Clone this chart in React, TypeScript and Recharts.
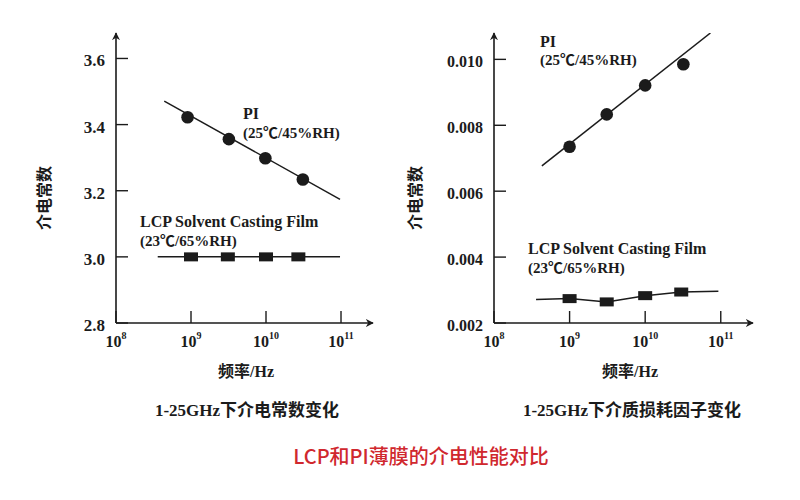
import React from 'react';
import { ComposedChart, Line, Scatter, XAxis, YAxis } from 'recharts';

// values (frequency in Hz)
const piFreqDk = [9e8, 3.2e9, 9.8e9, 3.1e10];
const piDk = [3.422, 3.356, 3.298, 3.234];
const piFitFreqDk = [4.4e8, 9.7e10];
const piFitDk = [3.471, 3.174];
const lcpFreqDk = [1e9, 3.1e9, 1e10, 2.7e10];
const lcpDk = [3.0, 3.0, 3.0, 3.0];
const lcpFitFreqDk = [3.6e8, 9.7e10];
const lcpFitDk = [3.0, 3.0];

const piFreqDf = [1e9, 3.1e9, 1e10, 3.2e10];
const piDf = [0.00735, 0.00833, 0.00921, 0.00985];
const piFitFreqDf = [4.3e8, 7.3e10];
const piFitDf = [0.00677, 0.0108];
const lcpFreqDf = [1e9, 3.1e9, 1e10, 3e10];
const lcpDf = [0.00274, 0.00264, 0.00283, 0.00294];
const lcpFitFreqDf = [3.6e8, 1e9, 3.1e9, 1e10, 3e10, 9.3e10];
const lcpFitDf = [0.00271, 0.00274, 0.00264, 0.00283, 0.00294, 0.00296];

const freqTicks = [1e8, 1e9, 1e10, 1e11];
const dkTicks = [2.8, 3.0, 3.2, 3.4, 3.6];
const dfTicks = [0.002, 0.004, 0.006, 0.008, 0.01];

const INK = '#1b1b1b';
const SERIF = "'Liberation Serif', 'Noto Sans CJK SC', serif";

const zip = (f: number[], v: number[]) => f.map((x, i) => ({ f: x, v: v[i] }));

const XTick = ({ x, y, payload }: any) => {
  const exp = Math.round(Math.log10(payload.value));
  return (
    <g>
      <line x1={x} x2={x} y1={y} y2={y - 12} stroke={INK} strokeWidth={1.4} />
      <text x={x} y={y + 24} textAnchor="middle" fill={INK} fontFamily={SERIF} fontWeight="bold" fontSize={16}>
        <tspan>10</tspan>
        <tspan dy={-8} fontSize={10}>{exp}</tspan>
      </text>
    </g>
  );
};

const YTick = ({ x, y, payload, digits }: any) => (
  <g>
    <line x1={x} x2={x + 12} y1={y} y2={y} stroke={INK} strokeWidth={1.4} />
    <text x={x - 11} y={y + 8} textAnchor="end" fill={INK} fontFamily={SERIF} fontWeight="bold" fontSize={digits === 1 ? 17 : 16}>
      {payload.value.toFixed(digits)}
    </text>
  </g>
);

const Circle = ({ cx, cy }: any) => <circle cx={cx} cy={cy} r={6.3} fill={INK} />;
const Square = ({ cx, cy }: any) => <rect x={cx - 7} y={cy - 4.5} width={14} height={9} fill={INK} />;

const Panel = ({ left, yWidth, rightGap, yDomain, yTicks, digits, pi, piFit, lcp, lcpFit }: any) => (
  <div style={{ position: 'absolute', left, top: 0 }}>
    <ComposedChart width={400} height={400} margin={{ top: 33, right: rightGap, bottom: 0, left: 0 }}>
      <XAxis
        type="number"
        dataKey="f"
        scale="log"
        domain={[1e8, 2.67e11]}
        allowDataOverflow
        ticks={freqTicks}
        interval={0}
        height={77}
        tickSize={0}
        tickMargin={0}
        tickLine={false}
        axisLine={{ stroke: INK, strokeWidth: 1.6, markerEnd: 'url(#axisArrow)' }}
        tick={XTick}
      />
      <YAxis
        type="number"
        dataKey="v"
        domain={yDomain}
        allowDataOverflow
        ticks={yTicks}
        interval={0}
        width={yWidth}
        tickSize={0}
        tickMargin={0}
        tickLine={false}
        axisLine={{ stroke: INK, strokeWidth: 1.6, markerStart: 'url(#axisArrow)' }}
        tick={(p: any) => <YTick {...p} digits={digits} />}
      />
      <Line data={piFit} dataKey="v" stroke={INK} strokeWidth={1.5} dot={false} isAnimationActive={false} />
      <Line data={lcpFit} dataKey="v" stroke={INK} strokeWidth={1.5} dot={false} isAnimationActive={false} />
      <Scatter data={pi} dataKey="v" shape={Circle} isAnimationActive={false} />
      <Scatter data={lcp} dataKey="v" shape={Square} isAnimationActive={false} />
    </ComposedChart>
  </div>
);

const txt = { fill: INK, fontFamily: SERIF, fontWeight: 'bold' as const };

export default function App() {
  return (
    <div style={{ position: 'absolute', left: 0, top: 0, width: 800, height: 500, background: '#fff', overflow: 'hidden' }}>
      <Panel
        left={0}
        yWidth={116}
        rightGap={27}
        yDomain={[2.8, 3.677]}
        yTicks={dkTicks}
        digits={1}
        pi={zip(piFreqDk, piDk)}
        piFit={zip(piFitFreqDk, piFitDk)}
        lcp={zip(lcpFreqDk, lcpDk)}
        lcpFit={zip(lcpFitFreqDk, lcpFitDk)}
      />
      <Panel
        left={400}
        yWidth={94}
        rightGap={47}
        yDomain={[0.002, 0.0108]}
        yTicks={dfTicks}
        digits={3}
        pi={zip(piFreqDf, piDf)}
        piFit={zip(piFitFreqDf, piFitDf)}
        lcp={zip(lcpFreqDf, lcpDf)}
        lcpFit={zip(lcpFitFreqDf, lcpFitDf)}
      />
      <svg width={800} height={500} style={{ position: 'absolute', left: 0, top: 0, pointerEvents: 'none' }}>
        <defs>
          <marker id="axisArrow" viewBox="0 0 10 10" refX={9} refY={5} markerWidth={8} markerHeight={8} markerUnits="userSpaceOnUse" orient="auto-start-reverse">
            <path d="M0,0 L10,5 L0,10 L3,5 z" fill={INK} />
          </marker>
        </defs>

        {/* left panel */}
        <text x={46} y={198} transform="rotate(-90 46 198)" textAnchor="middle" dominantBaseline="middle" fontSize={16} {...txt}>介电常数</text>
        <text x={246} y={377} textAnchor="middle" fontSize={16} {...txt}>频率/Hz</text>
        <text x={243} y={119} fontSize={16} {...txt}>PI</text>
        <text x={243} y={138} fontSize={15} {...txt}>(25℃/45%RH)</text>
        <text x={140} y={227} fontSize={16} {...txt}>LCP Solvent Casting Film</text>
        <text x={140} y={246} fontSize={15} {...txt}>(23℃/65%RH)</text>

        {/* right panel */}
        <text x={417} y={198} transform="rotate(-90 417 198)" textAnchor="middle" dominantBaseline="middle" fontSize={16} {...txt}>介电常数</text>
        <text x={630} y={377} textAnchor="middle" fontSize={16} {...txt}>频率/Hz</text>
        <text x={540} y={47} fontSize={16} {...txt}>PI</text>
        <text x={540} y={65} fontSize={15} {...txt}>(25℃/45%RH)</text>
        <text x={528} y={254} fontSize={16} {...txt}>LCP Solvent Casting Film</text>
        <text x={528} y={273} fontSize={15} {...txt}>(23℃/65%RH)</text>

        {/* captions */}
        <text x={247} y={416} textAnchor="middle" fontSize={17} {...txt}>1-25GHz下介电常数变化</text>
        <text x={632} y={416} textAnchor="middle" fontSize={17} {...txt}>1-25GHz下介质损耗因子变化</text>
        <text x={421} y={464} textAnchor="middle" fontSize={20} fill="#d0282e" fontFamily="'Noto Sans CJK SC', 'Noto Sans', sans-serif" fontWeight={500}>
          LCP和PI薄膜的介电性能对比
        </text>
      </svg>
    </div>
  );
}
